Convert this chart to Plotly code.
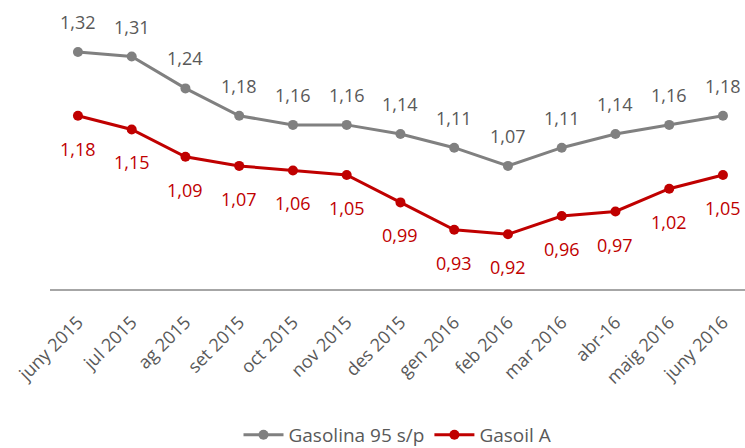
import plotly.graph_objects as go

categories = ["juny 2015", "jul 2015", "ag 2015", "set 2015", "oct 2015", "nov 2015",
              "des 2015", "gen 2016", "feb 2016", "mar 2016", "abr-16", "maig 2016", "juny 2016"]
gasolina = [1.32, 1.31, 1.24, 1.18, 1.16, 1.16, 1.14, 1.11, 1.07, 1.11, 1.14, 1.16, 1.18]
gasoil = [1.18, 1.15, 1.09, 1.07, 1.06, 1.05, 0.99, 0.93, 0.92, 0.96, 0.97, 1.02, 1.05]

FONT = "Open Sans, sans-serif"
GREY = "#808080"
RED = "#C00000"

def fmt(v):
    return f"{v:.2f}".replace(".", ",")

fig = go.Figure()
fig.add_trace(go.Scatter(x=categories, y=gasolina, mode="lines+markers", name="Gasolina 95 s/p",
                         line=dict(color=GREY, width=3), marker=dict(size=10, color=GREY),
                         cliponaxis=False))
fig.add_trace(go.Scatter(x=categories, y=gasoil, mode="lines+markers", name="Gasoil A",
                         line=dict(color=RED, width=3), marker=dict(size=10, color=RED),
                         cliponaxis=False))

for c, v in zip(categories, gasolina):
    fig.add_annotation(x=c, y=v, text=fmt(v), showarrow=False, yshift=30,
                       font=dict(family=FONT, size=18, color="#595959"))
for c, v in zip(categories, gasoil):
    fig.add_annotation(x=c, y=v, text=fmt(v), showarrow=False, yshift=-33,
                       font=dict(family=FONT, size=18, color=RED))

fig.update_layout(
    width=745, height=448,
    margin=dict(l=50, r=0, t=10, b=159, autoexpand=False),
    paper_bgcolor="white", plot_bgcolor="white",
    font=dict(family=FONT, color="#595959"),
    xaxis=dict(type="category", range=[-0.52, 12.41], showgrid=False, zeroline=False,
               showline=True, linecolor="#A6A6A6", linewidth=1.5, ticks="",
               automargin=False, tickangle=-45, ticklabelstandoff=14,
               tickfont=dict(family=FONT, size=18, color="#595959")),
    yaxis=dict(range=[0.8, 1.412], visible=False, showgrid=False, zeroline=False,
               automargin=False),
    legend=dict(orientation="h", x=0.5, xanchor="center", y=-0.523, yanchor="middle",
                itemwidth=40,
                font=dict(family=FONT, size=19, color="#595959")),
    showlegend=True,
)

fig.write_html("out.html", config={"displayModeBar": False},
               post_script="document.body.style.margin='0';document.body.style.overflow='hidden';")
